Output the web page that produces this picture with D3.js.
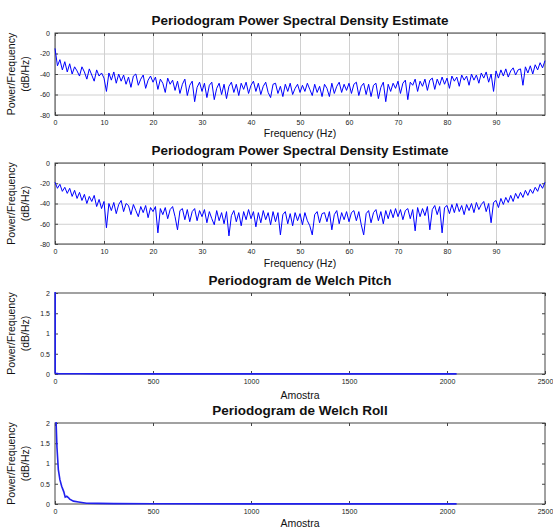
<!DOCTYPE html>
<meta charset="utf-8">
<style>
body { margin: 0; background: #fff; }
svg { font-family: "Liberation Sans", Arial, sans-serif; }
.frame { fill: none; stroke: #444; stroke-width: 1px; }
.grid line { stroke: #d0d0d0; stroke-width: 1px; }
.grid path { display: none; }
.ax path { display: none; }
.ax line { stroke: #444; }
.ax text { font-size: 7px; fill: #222; }
.line { fill: none; stroke: #0000ff; stroke-width: 1px; }
.line.thick { stroke-width: 1.6px; stroke: #2020ee; }
.title { font-size: 13.5px; font-weight: bold; fill: #111; }
.lab { font-size: 10.5px; fill: #111; }
</style>
<body>
<script src="https://d3js.org/d3.v7.min.js"></script>
<script>
// frequencies 0..100 Hz, every 0.5 Hz
var freq = d3.range(201).map(function(i) { return i / 2; });

// PSD estimate 1 (dB/Hz)
var psd1 = [
  -15, -32, -26, -36, -28, -38, -30, -40, -33, -37,
  -42, -33, -38, -45, -35, -41, -47, -36, -42, -39,
  -44, -57, -39, -46, -38, -49, -40, -47, -41, -50,
  -43, -53, -42, -40, -51, -45, -41, -54, -46, -42,
  -48, -43, -55, -45, -49, -58, -44, -50, -46, -56,
  -47, -59, -50, -45, -61, -51, -47, -67, -53, -48,
  -57, -49, -63, -51, -48, -65, -54, -49, -60, -50,
  -64, -52, -48, -58, -50, -61, -49, -55, -48, -59,
  -51, -47, -57, -49, -60, -52, -48, -58, -63, -50,
  -49, -59, -52, -62, -50, -57, -49, -60, -54, -50,
  -58, -51, -57, -49, -55, -61, -50, -58, -52, -62,
  -50, -54, -62, -49, -59, -52, -48, -58, -50, -56,
  -49, -59, -50, -48, -61, -52, -49, -60, -50, -62,
  -51, -49, -64, -53, -48, -67, -50, -57, -49, -54,
  -47, -59, -49, -46, -65, -48, -51, -45, -57, -47,
  -52, -45, -56, -46, -44, -55, -45, -51, -43, -50,
  -44, -54, -42, -47, -43, -52, -41, -46, -42, -51,
  -40, -46, -41, -49, -39, -44, -38, -48, -40, -57,
  -37, -44, -36, -42, -35, -43, -37, -34, -41, -36,
  -35, -51, -33, -39, -32, -40, -31, -36, -29, -34,
  -27
];

// PSD estimate 2 (dB/Hz)
var psd2 = [
  -19, -25, -21, -28, -24, -30, -25, -33, -27, -35,
  -29, -37, -31, -40, -33, -38, -32, -43, -36, -45,
  -38, -64, -40, -47, -39, -50, -41, -37, -48, -40,
  -42, -51, -41, -47, -53, -43, -49, -42, -54, -44,
  -48, -43, -69, -45, -51, -44, -55, -46, -43, -53,
  -66, -47, -45, -56, -46, -58, -48, -45, -57, -47,
  -53, -46, -59, -48, -55, -61, -47, -57, -49, -60,
  -48, -72, -52, -47, -58, -49, -62, -48, -56, -46,
  -55, -48, -63, -49, -59, -47, -56, -49, -61, -48,
  -58, -49, -71, -51, -48, -60, -50, -62, -49, -57,
  -50, -61, -49, -57, -62, -71, -51, -48, -59, -50,
  -49, -58, -48, -66, -51, -47, -60, -49, -56, -48,
  -58, -49, -47, -57, -48, -61, -71, -50, -47, -59,
  -49, -46, -57, -48, -60, -47, -55, -46, -54, -45,
  -53, -46, -56, -47, -45, -55, -46, -67, -44, -53,
  -45, -52, -43, -66, -46, -42, -51, -43, -69, -44,
  -42, -50, -41, -49, -40, -48, -42, -51, -41, -47,
  -40, -49, -39, -46, -41, -38, -48, -40, -59, -39,
  -37, -44, -35, -41, -34, -39, -32, -38, -30, -35,
  -29, -34, -27, -32, -26, -30, -24, -28, -21, -25,
  -19
];

// Welch periodograms against sample index
var pitchIdx = [0, 1, 2, 4, 8, 16, 32, 64, 128, 256, 512, 1024, 1536, 2049];
var pitchVal = [35, 0.03, 0.02, 0.015, 0.012, 0.01, 0.008, 0.006, 0.005, 0.004, 0.003, 0.003, 0.002, 0.002];

var rollIdx = [0, 5, 10, 17, 25, 34, 45, 52, 60, 68, 75, 94, 120, 161, 220, 300, 500, 1000, 1500, 2049];
var rollVal = [3.5, 2.1, 1.4, 0.85, 0.6, 0.44, 0.3, 0.17, 0.19, 0.16, 0.12, 0.07, 0.05, 0.02, 0.015, 0.01, 0.005, 0.003, 0.002, 0.002];

var dbTicks = [0, -20, -40, -60, -80];
var freqTicks = [0, 10, 20, 30, 40, 50, 60, 70, 80, 90];
var welchYTicks = [0, 0.5, 1, 1.5, 2];
var welchXTicks = [0, 500, 1000, 1500, 2000, 2500];

var W = 553, H = 529;
var left = 55, right = 545;

var svg = d3.select("body").append("svg")
    .attr("width", W)
    .attr("height", H);

var panels = [
  { top: 33, bottom: 115, title: "Periodogram Power Spectral Density Estimate", xlab: "Frequency (Hz)",
    xs: freq, ys: psd1, xd: [0, 100], yd: [-80, 0], xt: freqTicks, yt: dbTicks, grid: true, xlabDy: 18 },
  { top: 163, bottom: 244, title: "Periodogram Power Spectral Density Estimate", xlab: "Frequency (Hz)",
    xs: freq, ys: psd2, xd: [0, 100], yd: [-80, 0], xt: freqTicks, yt: dbTicks, grid: true, xlabDy: 19 },
  { top: 293, bottom: 374, title: "Periodogram de Welch Pitch", xlab: "Amostra",
    xs: pitchIdx, ys: pitchVal, xd: [0, 2500], yd: [0, 2], xt: welchXTicks, yt: welchYTicks, grid: false, xlabDy: 21 },
  { top: 423, bottom: 504, title: "Periodogram de Welch Roll", xlab: "Amostra",
    xs: rollIdx, ys: rollVal, xd: [0, 2500], yd: [0, 2], xt: welchXTicks, yt: welchYTicks, grid: false, xlabDy: 19 }
];

panels.forEach(function(p, i) {
  var h = p.bottom - p.top, w = right - left;
  var x = d3.scaleLinear().domain(p.xd).range([0, w]);
  var y = d3.scaleLinear().domain(p.yd).range([h, 0]);

  var g = svg.append("g").attr("transform", "translate(" + left + "," + p.top + ")");

  // a bit wider than the box so lines on the edges still show
  g.append("clipPath").attr("id", "clip" + i)
    .append("rect").attr("x", -1).attr("y", -1).attr("width", w + 2).attr("height", h + 2);

  if (p.grid) {
    g.append("g").attr("class", "grid")
        .attr("transform", "translate(0," + h + ")")
        .call(d3.axisBottom(x).tickValues(p.xt).tickSize(-h).tickFormat(""));
    g.append("g").attr("class", "grid")
        .call(d3.axisLeft(y).tickValues(p.yt).tickSize(-w).tickFormat(""));
  }

  var fmt = function(d) { return String(d); };
  // ticks inside on all four sides
  g.append("g").attr("class", "ax")
      .attr("transform", "translate(0," + h + ")")
      .call(d3.axisBottom(x).tickValues(p.xt).tickSize(-3).tickPadding(5).tickFormat(fmt));
  g.append("g").attr("class", "ax")
      .call(d3.axisTop(x).tickValues(p.xt).tickSize(-3).tickFormat(""));
  g.append("g").attr("class", "ax")
      .call(d3.axisLeft(y).tickValues(p.yt).tickSize(-3).tickPadding(5).tickFormat(fmt));
  g.append("g").attr("class", "ax")
      .attr("transform", "translate(" + w + ",0)")
      .call(d3.axisRight(y).tickValues(p.yt).tickSize(-3).tickFormat(""));

  g.append("rect").attr("class", "frame").attr("width", w).attr("height", h);

  var line = d3.line()
      .x(function(d, j) { return x(p.xs[j]); })
      .y(function(d) { return y(d); });

  g.append("path")
      .datum(p.ys)
      .attr("class", p.grid ? "line" : "line thick")
      .attr("clip-path", "url(#clip" + i + ")")
      .attr("d", line);

  g.append("text").attr("class", "title")
      .attr("x", w / 2).attr("y", -13)
      .attr("text-anchor", "middle").attr("dy", "0.35em")
      .text(p.title);

  g.append("text").attr("class", "lab")
      .attr("x", w / 2).attr("y", h + p.xlabDy)
      .attr("text-anchor", "middle").attr("dy", "0.35em")
      .text(p.xlab);

  var yl = g.append("text").attr("class", "lab")
      .attr("transform", "translate(" + (-40) + "," + (h / 2) + ") rotate(-90)")
      .attr("text-anchor", "middle");
  yl.append("tspan").attr("x", 0).attr("dy", 0).text("Power/Frequency");
  yl.append("tspan").attr("x", 0).attr("dy", 14).text("(dB/Hz)");
});
</script>
</body>
